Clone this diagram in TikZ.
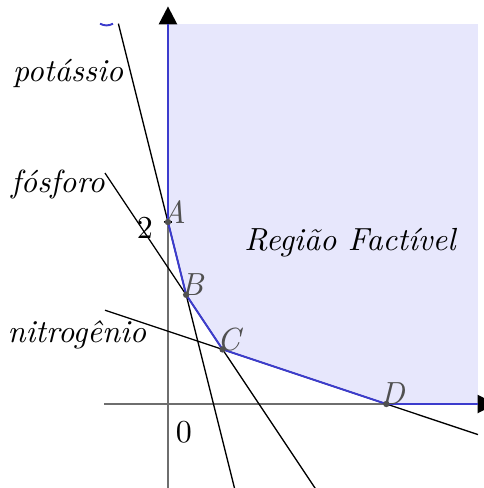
\documentclass[tikz,border=0pt]{standalone}
\usetikzlibrary{arrows.meta}
\definecolor{regfill}{RGB}{231,231,252}
\definecolor{regline}{RGB}{60,60,205}
\definecolor{axisgray}{RGB}{110,110,110}
\definecolor{ptgray}{RGB}{80,80,80}
\tikzset{
  axisline/.style={draw=axisgray, line width=0.8pt},
  axisarrow/.style={draw=black, line width=0.8pt, -{Triangle[length=5.6pt,width=5.6pt]}},
  constraint/.style={draw=black, line width=0.4pt},
  boundary/.style={draw=regline, line width=0.6pt},
  ptdot/.style={fill=ptgray},
  ptlabel/.style={text=ptgray, font=\itshape, anchor=center, inner sep=0pt, xshift=0.066cm, yshift=0.113cm},
  txt/.style={font=\itshape, inner sep=0pt}
}
\begin{document}
\begin{tikzpicture}[x=1cm,y=1cm]
\useasboundingbox (-1.846,-0.923) rectangle (3.473,4.440);
% key points
\coordinate (O) at (0,0);
\coordinate (A) at (0,2);
\coordinate (B) at (0.2,1.2);
\coordinate (C) at (0.6,0.6);
\coordinate (D) at (2.4,0);
\coordinate (top) at (0,4.176);
\coordinate (rgt) at (3.407,0);
\coordinate (tr) at (3.407,4.176);
% feasible region
\fill[regfill] (top) -- (A) -- (B) -- (C) -- (D) -- (rgt) -- (tr) -- cycle;
% axes
\coordinate (xs) at (-0.703,0);
\coordinate (xe) at (3.60,0);
\coordinate (ys) at (0,-0.95);
\coordinate (ye) at (0,4.37);
\draw[axisline] (xs) -- (rgt);
\draw[axisline] (ys) -- (top);
\draw[axisarrow] (rgt) -- (xe);
\draw[axisarrow] (top) -- (ye);
% constraint lines
\coordinate (k1) at (-0.545,4.18);
\coordinate (k2) at (0.735,-0.94);
\coordinate (f1) at (-0.692,2.538);
\coordinate (f2) at (1.627,-0.94);
\coordinate (n1) at (-0.692,1.031);
\coordinate (n2) at (3.407,-0.336);
\draw[constraint] (k1) -- (k2);
\draw[constraint] (f1) -- (f2);
\draw[constraint] (n1) -- (n2);
% boundary of the region
\draw[boundary] (top) -- (A) -- (B) -- (C) -- (D) -- (rgt);
% small blue arc at top left
\coordinate (arcs) at (-0.747,4.18);
\draw[boundary] (arcs) arc[start angle=240, end angle=300, radius=0.143];
% tick at A
\draw[black, line width=0.5pt] (-0.045,2) -- (0.045,2);
% points
\foreach \p in {A,B,C,D} \fill[ptdot] (\p) circle (1pt);
\node[ptlabel] (lA) at (A) {A};
\node[ptlabel] (lB) at (B) {B};
\node[ptlabel] (lC) at (C) {C};
\node[ptlabel] (lD) at (D) {D};
% texts
\node[txt] (tk) at (-1.099,3.637) {potássio};
\node[txt] (tf) at (-1.209,2.407) {fósforo};
\node[txt] (tn) at (-1.0,0.758) {nitrogênio};
\node[txt] (tr2) at (2.0,1.769) {Região Factível};
\node[inner sep=0pt] (t2) at (-0.253,1.934) {2};
\node[inner sep=0pt] (t0) at (0.176,-0.308) {0};
\end{tikzpicture}
\end{document}
